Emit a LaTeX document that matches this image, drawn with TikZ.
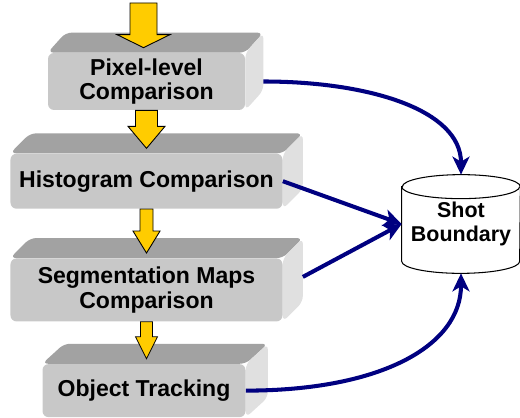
\documentclass[tikz,border=0pt]{standalone}
\usepackage{fontspec}
\setmainfont{Liberation Sans}
\usetikzlibrary{positioning, calc, arrows.meta, backgrounds}

\definecolor{slabfront}{HTML}{C8C8C8}
\definecolor{slabtop}{HTML}{A2A2A2}
\definecolor{slabside}{HTML}{E0E0E0}
\definecolor{flowyellow}{HTML}{FFCC00}
\definecolor{linknavy}{HTML}{000080}

\newcommand{\slab}[2]{%
  \fill[slab top] (#1.north west) -- ++(#2,0.4) -- ([shift={(#2,0.4)}]#1.north east) -- (#1.north east) -- cycle;
  \fill[slab side] (#1.north east) -- ++(#2,0.4) -- ([shift={(#2,0.4)}]#1.south east) -- (#1.south east) -- cycle;}

\newcommand{\flowarrow}[5]{%
  \filldraw[flow] let \p1=#1, \p2=#2 in
    (\x1-#3,\y1) -- (\x1-#3,\y2+0.1cm+#5) -- (\x1-#4,\y2+0.1cm+#5) -- (\x1,\y2+0.1cm)
    -- (\x1+#4,\y2+0.1cm+#5) -- (\x1+#3,\y2+0.1cm+#5) -- (\x1+#3,\y1) -- cycle;}

\begin{document}
\begin{tikzpicture}[
    stage/.style={fill=slabfront, rounded corners=0.12cm, align=center, inner sep=0pt,
      font=\bfseries\fontsize{13.1}{14}\selectfont},
    slab top/.style={fill=slabtop, rounded corners=0.12cm},
    slab side/.style={fill=slabside, rounded corners=0.12cm},
    flow/.style={fill=flowyellow, draw=black, line width=0.5pt, line join=miter},
    link/.style={draw=linknavy, line width=2.3pt, -{Stealth[length=3.6mm, width=3.4mm, inset=1mm]}}
  ]
    \useasboundingbox (0,0) rectangle (10.4,8.34);

    \node[stage, minimum width=3.94cm, minimum height=1.14cm] (pix) at (2.93,6.71) {Pixel-level\\Comparison};
    \node[stage, minimum width=5.44cm, minimum height=1.10cm, below=0.86cm of pix] (hist) {Histogram Comparison};
    \node[stage, minimum width=5.44cm, minimum height=1.26cm, below=0.98cm of hist] (seg) {Segmentation Maps\\Comparison};
    \node[stage, minimum width=4.06cm, minimum height=1.06cm, below=0.84cm of seg, xshift=-0.05cm] (track) {Object Tracking};

    \begin{pgfonlayer}{background}
      \slab{pix}{0.36}
      \slab{hist}{0.4}
      \slab{seg}{0.4}
      \slab{track}{0.44}
    \end{pgfonlayer}

    \coordinate (feed) at (2.87,8.28);
    \flowarrow{(feed)}{(pix.north)}{0.27cm}{0.53cm}{0.26cm}
    \flowarrow{(pix.south)}{(hist.north)}{0.22cm}{0.37cm}{0.44cm}
    \flowarrow{(hist.south)}{(seg.north)}{0.13cm}{0.27cm}{0.44cm}
    \flowarrow{(seg.south)}{(track.north)}{0.12cm}{0.22cm}{0.44cm}

    \node[minimum width=2.36cm, minimum height=1.96cm, align=center,
      font=\bfseries\fontsize{12.2}{13.4}\selectfont] (shot) at (9.22,3.86) {Shot\\Boundary};
    \draw[fill=white, line width=0.6pt] ([yshift=-0.24cm]shot.north west) -- ([yshift=0.24cm]shot.south west)
      arc[start angle=180, end angle=360, x radius=1.18cm, y radius=0.24cm]
      -- ([yshift=-0.24cm]shot.north east)
      arc[start angle=0, end angle=180, x radius=1.18cm, y radius=0.24cm] -- cycle;
    \draw[line width=0.6pt] ([yshift=-0.24cm]shot.north west)
      arc[start angle=180, end angle=360, x radius=1.18cm, y radius=0.24cm];
    \node[align=center, font=\bfseries\fontsize{12.2}{13.4}\selectfont] at (shot) {Shot\\Boundary};

    \draw[link] ([xshift=0.36cm]pix.east) .. controls +(2.1,0) and +(0,1.3) .. (shot.north);
    \draw[link] (hist.east) -- (shot.west);
    \draw[link] ([shift={(0.4,0.26)}]seg.east) -- (shot.west);
    \draw[link] (track.east) .. controls +(2.7,0) and +(0,-1.45) .. (shot.south);

\end{tikzpicture}
\end{document}
